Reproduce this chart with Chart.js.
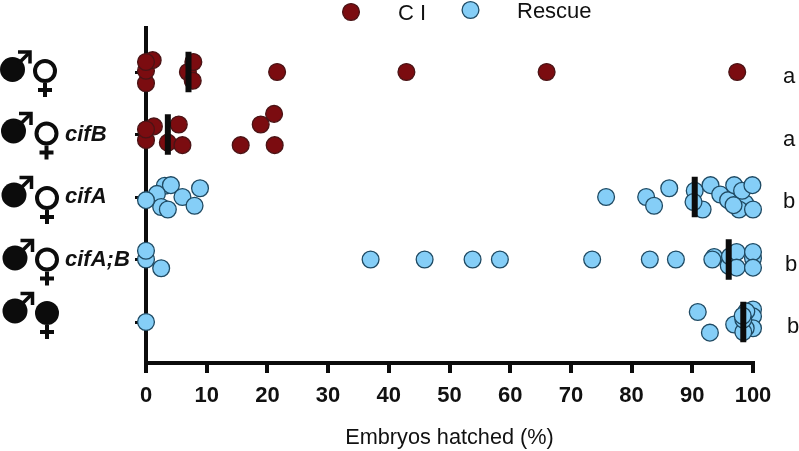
<!DOCTYPE html>
<html>
<head>
<meta charset="utf-8">
<script src="https://cdn.jsdelivr.net/npm/chart.js@4"></script>
<style>
  body { margin: 0; background: #fff; }
  canvas { display: block; }
</style>
</head>
<body>
<canvas id="dot-chart" width="799" height="451"></canvas>
<script>
'use strict';
// rows count from the top, y holds the row plus the swarm offset
const rowLabels = ['', 'cifB', 'cifA', 'cifA;B', ''];
const sigLetters = ['a', 'a', 'b', 'b', 'b'];
const xTicks = [0, 10, 20, 30, 40, 50, 60, 70, 80, 90, 100];

const ciX = [0, 0, 1.1, 0, 6.9, 7.8, 7.7, 21.6, 42.9, 66, 97.4,
  0, 1.3, 0, 5.4, 3.6, 6, 15.6, 18.9, 21.1, 21.2];
const ciY = [1.18, 0.98, 0.81, 0.84, 1, 0.84, 1.14, 1, 1, 1, 1,
  2.09, 1.87, 1.92, 1.84, 2.13, 2.17, 2.17, 1.84, 1.67, 2.17];

const rescueX = [3.1, 4.1, 1.8, 6, 8.9, 8, 2.5, 3.6, 0, 75.8, 82.4, 83.7, 86.2, 91.7, 90.4, 90.2, 93, 94.6,
  95.9, 98.7, 97.7, 100, 96.9, 98.2, 99.9, 96.8,
  0, 0, 2.5, 37, 45.9, 53.8, 58.3, 73.5, 83, 87.3, 93.6, 93.3, 96, 96.2, 100, 97.3, 97.3, 100, 100,
  0, 90.9, 92.9, 96.9, 100, 100, 98.9, 100, 98.8, 98.4, 98.4, 98.3];
const rescueY = [2.82, 2.81, 2.95, 3, 2.86, 3.14, 3.16, 3.2, 3.05, 3, 3, 3.14, 2.86, 3.2, 2.9, 3.08, 2.81, 2.96,
  3.05, 3.1, 3.2, 3.2, 2.81, 2.9, 2.81, 3.13,
  4, 3.86, 4.14, 4, 4, 4, 4, 4, 4, 4, 3.96, 4, 4.1, 3.95, 3.98, 3.88, 4.13, 3.88, 4.13,
  5, 4.84, 5.17, 5.04, 4.8, 4.91, 4.83, 5.1, 5.1, 5.16, 4.96, 4.9];

const means = [7, 3.6, 90.4, 96, 98.4];
const meanSpan = 0.325;

const fontName = 'Liberation Sans';

function toPoints(xs, ys) {
  return xs.map((x, i) => ({ x: x, y: ys[i] }));
}

function dotSet(label, xs, ys, fill, edge) {
  return {
    type: 'scatter', label: label, data: toPoints(xs, ys),
    pointRadius: 8.4, pointHoverRadius: 8.4, pointBorderWidth: 1.3,
    backgroundColor: fill, borderColor: edge, clip: false
  };
}

const meanSets = means.map((m, i) => ({
  type: 'line',
  label: 'mean ' + (i + 1),
  data: [{ x: m, y: i + 1 - meanSpan }, { x: m, y: i + 1 + meanSpan }],
  borderColor: '#0c0c0c', borderWidth: 6, pointRadius: 0, clip: false, borderCapStyle: 'butt'
}));

// symbol spots for the five rows: male centre x/y, female centre x/y
const symbolSpots = [
  [12.5, 69.5, 45, 71], [13.5, 131, 46.5, 133.5], [14, 195, 47, 198], [15, 258, 47, 259.5], [15, 311, 47, 313]
];
const letterX = [783, 783, 783, 785, 787];

function drawMale(c, x, y) {
  c.fillStyle = c.strokeStyle = '#0c0c0c';
  c.beginPath(); c.arc(x, y, 12.5, 0, Math.PI * 2); c.fill();
  c.lineWidth = 3.5;
  c.beginPath(); c.moveTo(x + 6, y - 6); c.lineTo(x + 16, y - 16); c.stroke();
  c.beginPath(); c.moveTo(x + 5.5, y - 17.5); c.lineTo(x + 17.5, y - 17.5); c.lineTo(x + 17.5, y - 6); c.stroke();
}

function drawFemale(c, x, y, filled) {
  c.fillStyle = c.strokeStyle = '#0c0c0c';
  c.lineWidth = 4;
  c.beginPath();
  if (filled) {
    c.arc(x, y, 12, 0, Math.PI * 2); c.fill();
  } else {
    c.arc(x, y, 10, 0, Math.PI * 2); c.stroke();
  }
  c.beginPath(); c.moveTo(x, y + 12); c.lineTo(x, y + 26); c.stroke();
  c.beginPath(); c.moveTo(x - 7, y + 19); c.lineTo(x + 7, y + 19); c.stroke();
}

const annotations = {
  id: 'annotations',
  afterDraw(chart) {
    const c = chart.ctx;
    const yScale = chart.scales.y;
    c.save();
    symbolSpots.forEach((s, i) => {
      drawMale(c, s[0], s[1]);
      drawFemale(c, s[2], s[3], i === 4);
    });
    c.fillStyle = '#111';
    c.font = '22px "Liberation Sans"';
    c.textBaseline = 'alphabetic';
    sigLetters.forEach((t, i) => {
      c.fillText(t, letterX[i], yScale.getPixelForValue(i + 1) + 11);
    });
    // legend
    c.fillText('C I', 398, 20);
    c.fillText('Rescue', 517, 18);
    [[351, 12, '#7b0c10', '#4a1416'], [470.5, 10, '#85cef7', '#1f4a63']].forEach(m => {
      c.beginPath();
      c.arc(m[0], m[1], 8.4, 0, Math.PI * 2);
      c.fillStyle = m[2];
      c.fill();
      c.lineWidth = 1.3;
      c.strokeStyle = m[3];
      c.stroke();
    });
    c.restore();
  }
};

new Chart(document.getElementById('dot-chart'), {
  type: 'scatter',
  data: {
    // the library paints the first dataset last, mean bars go on top
    datasets: meanSets.concat([
      dotSet('Rescue', rescueX, rescueY, '#85cef7', '#1f4a63'),
      dotSet('C I', ciX, ciY, '#7b0c10', '#4a1416')
    ])
  },
  plugins: [annotations],
  options: {
    responsive: false,
    animation: false,
    layout: { padding: { left: 65, top: 28, right: 46, bottom: 0 } },
    plugins: { legend: { display: false }, tooltip: { enabled: false } },
    scales: {
      x: {
        type: 'linear', min: 0, max: 100,
        afterBuildTicks: axis => { axis.ticks = xTicks.map(v => ({ value: v })); },
        afterFit: axis => { axis.height = 88; },
        border: { color: '#0c0c0c', width: 4 },
        grid: { drawOnChartArea: false, color: '#0c0c0c', lineWidth: 4, tickLength: 10 },
        ticks: { color: '#111', maxRotation: 0, padding: 10, font: { family: fontName, size: 22, weight: 'bold' } },
        title: {
          display: true, text: 'Embryos hatched (%)', color: '#111',
          padding: { top: 12, bottom: 0 }, font: { family: fontName, size: 21.7 }
        }
      },
      y: {
        type: 'linear', reverse: true, min: 0.296, max: 5.656,
        afterBuildTicks: axis => { axis.ticks = rowLabels.map((t, i) => ({ value: i + 1 })); },
        afterFit: axis => { axis.width = 81; },
        border: { color: '#0c0c0c', width: 4 },
        grid: { drawOnChartArea: false, color: '#0c0c0c', lineWidth: 3, tickLength: 11 },
        ticks: {
          color: '#111', crossAlign: 'far', autoSkip: false,
          font: { family: fontName, size: 22, weight: 'bold', style: 'italic' },
          callback: v => rowLabels[v - 1]
        }
      }
    }
  }
});
</script>
</body>
</html>
